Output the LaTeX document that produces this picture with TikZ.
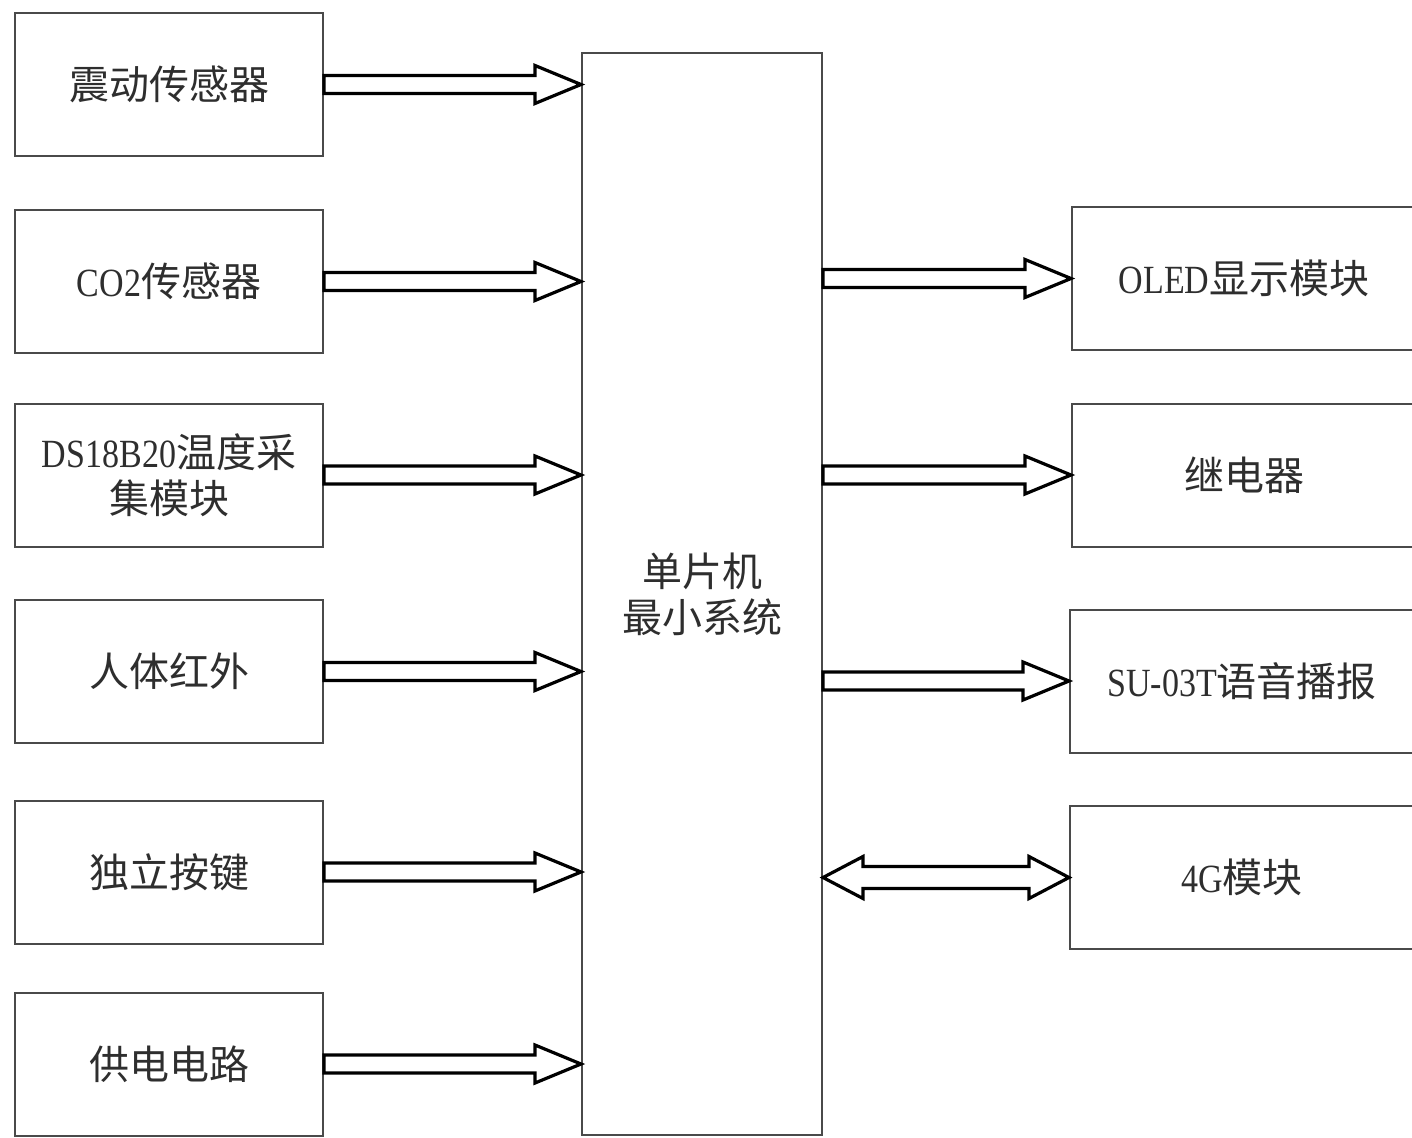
\documentclass[tikz,border=0pt]{standalone}
\usepackage{fontspec}
\setmainfont{Noto Sans CJK SC}
\newfontfamily\lat[FakeStretch=0.85]{Liberation Serif}
\usetikzlibrary{calc}
\definecolor{boxline}{HTML}{4A4A4A}
\definecolor{txt}{HTML}{2E2E2E}
\tikzset{
  blk/.style={draw=boxline, line width=2pt, inner sep=0pt, text=txt,
    font=\fontsize{40}{46}\selectfont, align=center},
  lbox/.style={blk, minimum width=308pt, minimum height=143pt},
  rbox/.style={blk, minimum width=344pt, minimum height=143pt},
  fatline/.style={draw=black, line width=3.2pt, fill=white, line join=miter},
}
\newcommand\fatarr[2]{%
  \draw[fatline] let \p1=(#1), \p2=(#2) in
    (\x1,\y1+9pt) -- (\x2-46pt,\y1+9pt) -- (\x2-46pt,\y1+19pt) -- (\x2,\y1)
    -- (\x2-46pt,\y1-19pt) -- (\x2-46pt,\y1-9pt) -- (\x1,\y1-9pt) -- cycle;}
\newcommand\dblarr[2]{%
  \draw[fatline] let \p1=(#1), \p2=(#2) in
    (\x1,\y1) -- (\x1+40pt,\y1+21pt) -- (\x1+40pt,\y1+11pt) -- (\x2-40pt,\y1+11pt)
    -- (\x2-40pt,\y1+21pt) -- (\x2,\y1) -- (\x2-40pt,\y1-21pt) -- (\x2-40pt,\y1-11pt)
    -- (\x1+40pt,\y1-11pt) -- (\x1+40pt,\y1-21pt) -- cycle;}
\begin{document}
\begin{tikzpicture}[x=1pt,y=-1pt]
\useasboundingbox[fill=white] (0,0) rectangle (1412,1137);
% left column
\node[lbox] (b1) at (169,84.5) {震动传感器};
\node[lbox] (b2) at (169,281.5) {{\lat CO2}传感器};
\node[lbox] (b3) at (169,475) {{\lat DS18B20}温度采\\集模块};
\node[lbox] (b4) at (169,671.5) {人体红外};
\node[lbox] (b5) at (169,872) {独立按键};
\node[lbox] (b6) at (169,1064) {供电电路};
% central
\node[blk, minimum width=240pt, minimum height=1082pt] (mcu) at (702,594) {单片机\\最小系统};
% right column
\node[rbox] (r1) at (1244,278.5) {{\lat OLED}显示模块};
\node[rbox] (r2) at (1244,475) {继电器};
\node[rbox] (r3) at (1242,681) {{\lat SU-03T}语音播报};
\node[rbox] (r4) at (1242,877.5) {{\lat 4G}模块};
% arrows
\fatarr{b1.east}{mcu.west |- b1.east}
\fatarr{b2.east}{mcu.west |- b2.east}
\fatarr{b3.east}{mcu.west |- b3.east}
\fatarr{b4.east}{mcu.west |- b4.east}
\fatarr{b5.east}{mcu.west |- b5.east}
\fatarr{b6.east}{mcu.west |- b6.east}
\fatarr{mcu.east |- r1.west}{r1.west}
\fatarr{mcu.east |- r2.west}{r2.west}
\fatarr{mcu.east |- r3.west}{r3.west}
\dblarr{mcu.east |- r4.west}{r4.west}
\end{tikzpicture}
\end{document}
